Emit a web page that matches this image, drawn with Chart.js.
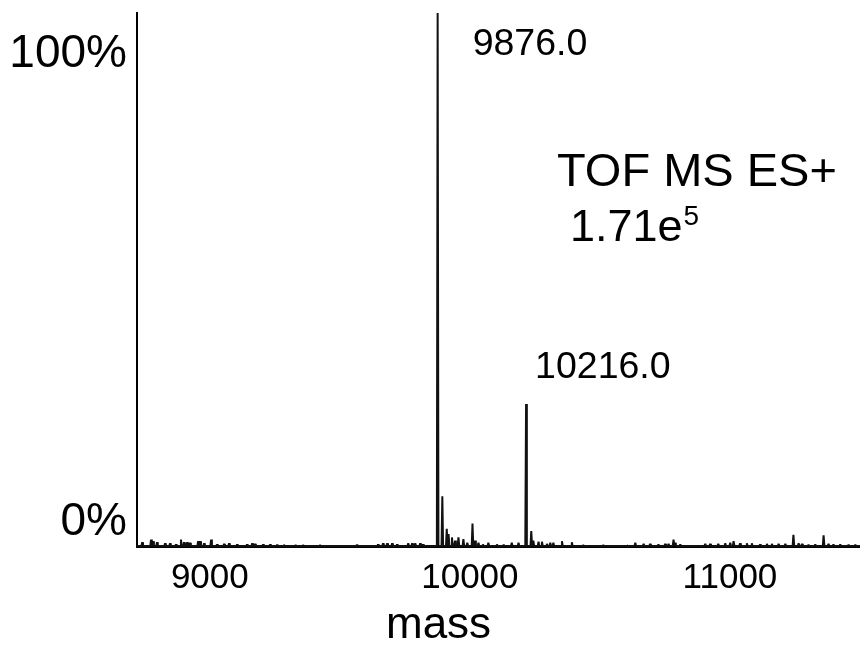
<!DOCTYPE html>
<html>
<head>
<meta charset="utf-8">
<title>TOF MS ES+ spectrum</title>
<script src="https://cdn.jsdelivr.net/npm/chart.js@4/dist/chart.umd.min.js"></script>
<style>
    html, body { margin: 0; padding: 0; background: #fff; }
    #wrap { position: relative; width: 860px; height: 654px; }
</style>
</head>
<body>
<div id="wrap"><canvas id="spectrum" width="860" height="654"></canvas></div>
<script>
// Spectrum: mass of each peak and its height in % of the base peak
const peakMass = [
    8740, 8774, 8782, 8797, 8828, 8847, 8870, 8889, 8901, 8913, 8924, 8955, 8963, 8978,
    9005, 9028, 9055, 9074, 9105, 9143, 9163, 9174, 9205, 9232, 9259, 9285, 9330,
    9359, 9424, 9566, 9647, 9666, 9682, 9701, 9720, 9763, 9778, 9790, 9809, 9820,
    9876, 9894, 9911, 9918, 9931, 9943, 9956, 9975, 9990, 10010, 10020, 10033, 10050,
    10071, 10104, 10130, 10161, 10187, 10216, 10236, 10244, 10264, 10277, 10296, 10309,
    10321, 10354, 10392, 10436, 10513, 10604, 10636, 10668, 10693, 10725, 10751, 10764,
    10783, 10789, 10809, 10905, 10924, 10955, 10982, 11001, 11014, 11039, 11065, 11084,
    11116, 11142, 11161, 11187, 11213, 11244, 11264, 11277, 11302, 11328, 11360, 11379,
    11398, 11424, 11456, 11482
];
const peakIntensity = [
    0.9, 1.4, 1.1, 0.9, 0.7, 0.7, 0.5, 1.4, 0.9, 0.9, 0.8, 1.1, 1.1, 0.7,
    1.4, 0.5, 0.6, 0.7, 0.5, 0.5, 0.7, 0.6, 0.5, 0.5, 0.4, 0.4, 0.3,
    0.3, 0.3, 0.4, 0.5, 0.7, 0.7, 0.7, 0.5, 0.7, 0.7, 0.7, 0.7, 0.5,
    100, 9.5, 3.4, 2.4, 1.8, 1.2, 1.8, 1.5, 0.8, 4.4, 1.2, 0.8, 0.5,
    0.8, 0.5, 0.4, 0.8, 0.8, 26.8, 3.0, 1.2, 1.0, 1.0, 0.6, 0.8,
    0.8, 1.1, 0.9, 0.3, 0.3, 0.3, 0.8, 0.6, 0.6, 0.5, 0.6, 0.6,
    1.4, 0.8, 0.5, 0.6, 0.6, 0.6, 0.7, 0.8, 1.1, 0.7, 0.7, 0.7,
    0.5, 0.6, 0.6, 0.6, 0.6, 2.3, 0.7, 0.6, 0.4, 0.5, 2.2, 0.6,
    0.5, 0.5, 0.4, 0.4
];
const labelledPeaks = [9876, 10216];
const baselineLevel = 0.2;

// Axes
const massMin = 8720;
const massMax = 11500;
const xTicks = [9000, 10000, 11000];
const yTickLabels = ['0%', '100%'];
const xTitle = 'mass';
const instrumentText = 'TOF MS ES+';
const countMantissa = '1.71e';
const countExponent = '5';

const FONT = '"Liberation Sans", Arial, Helvetica, sans-serif';

// Build line points: each peak is a narrow spike standing on the baseline
function buildTrace() {
    const pts = [{ x: massMin, y: baselineLevel }];
    peakMass.forEach((m, i) => {
        pts.push({ x: m - 3, y: baselineLevel });
        pts.push({ x: m, y: peakIntensity[i] });
        pts.push({ x: m + 3, y: baselineLevel });
    });
    pts.push({ x: massMax, y: baselineLevel });
    return pts;
}

// Free text: peak labels, instrument note and the x title
const textPlugin = {
    id: 'spectrumText',
    afterDraw(chart) {
        const ctx = chart.ctx;
        const xs = chart.scales.x;
        ctx.save();
        ctx.fillStyle = '#000';
        ctx.textBaseline = 'alphabetic';
        ctx.textAlign = 'left';

        ctx.font = '37.5px ' + FONT;
        const offsets = [{ dx: 35, y: 55 }, { dx: 9, y: 378 }];
        labelledPeaks.forEach((m, i) => {
            ctx.fillText(m.toFixed(1), xs.getPixelForValue(m) + offsets[i].dx, offsets[i].y);
        });

        ctx.font = '47px ' + FONT;
        ctx.fillText(instrumentText, 557, 186);
        ctx.font = '45px ' + FONT;
        ctx.fillText(countMantissa, 570, 241);
        const w = ctx.measureText(countMantissa).width;
        ctx.font = '28px ' + FONT;
        ctx.fillText(countExponent, 570 + w + 1, 225);

        ctx.font = '44px ' + FONT;
        ctx.fillText(xTitle, 386, 638);
        ctx.restore();
    }
};

const ctx = document.getElementById('spectrum').getContext('2d');
const chart = new Chart(ctx, {
    type: 'line',
    data: {
        datasets: [{
            label: 'TOF MS ES+',
            data: buildTrace(),
            borderColor: '#111',
            borderWidth: 2,
            borderJoinStyle: 'bevel',
            pointRadius: 0,
            tension: 0,
            fill: false
        }]
    },
    options: {
        responsive: false,
        animation: false,
        devicePixelRatio: 1,
        parsing: false,
        layout: { padding: { top: 13, right: 0, left: 0, bottom: 0 } },
        plugins: {
            legend: { display: false },
            tooltip: { enabled: false }
        },
        scales: {
            x: {
                type: 'linear',
                min: massMin,
                max: massMax,
                afterBuildTicks: scale => { scale.ticks = xTicks.map(v => ({ value: v })); },
                afterFit: scale => { scale.height = 107; scale.paddingLeft = 0; scale.paddingRight = 0; },
                grid: { display: false, drawTicks: false },
                border: { display: true, color: '#000', width: 2 },
                ticks: {
                    color: '#000',
                    padding: 10,
                    maxRotation: 0,
                    font: { family: FONT, size: 35 },
                    callback: v => String(v)
                }
            },
            y: {
                type: 'linear',
                min: 0,
                max: 100,
                afterBuildTicks: scale => { scale.ticks = [{ value: 4.7 }, { value: 92.3 }]; },
                afterFit: scale => { scale.width = 137; scale.paddingTop = 0; scale.paddingBottom = 0; },
                grid: { display: false, drawTicks: false },
                border: { display: true, color: '#000', width: 2 },
                ticks: {
                    color: '#000',
                    padding: 10,
                    font: { family: FONT, size: 46 },
                    callback: (v, i) => yTickLabels[i]
                }
            }
        }
    },
    plugins: [textPlugin]
});
</script>
</body>
</html>
